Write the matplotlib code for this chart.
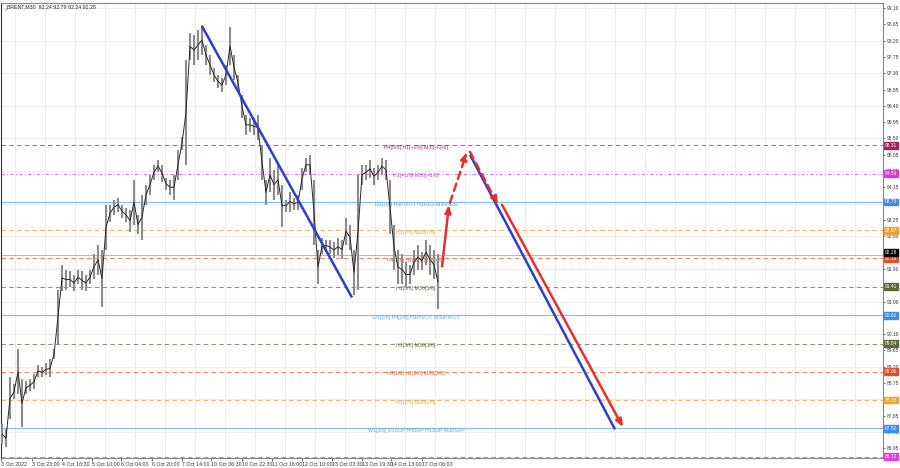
import matplotlib
matplotlib.use("Agg")
import matplotlib.pyplot as plt
import matplotlib.transforms as mtransforms
import numpy as np

plt.rcParams["font.family"] = ["Liberation Sans", "DejaVu Sans"]

# ---------------- data ----------------
symbol_title = "_BRENT,M30  92.24 92.79 92.24 92.28"

bar_high = [87.61, 87.47, 88.91, 88.71, 89.68, 88.85, 88.80, 88.85, 88.99, 89.26,
            89.18, 89.29, 89.40, 89.68, 91.33, 92.02, 91.88, 91.83, 91.74, 91.88,
            91.83, 91.74, 91.88, 92.30, 92.57, 92.43, 93.67, 93.67, 93.81, 93.87,
            93.67, 93.59, 93.53, 94.36, 93.40, 93.95, 94.22, 94.50, 94.77, 94.91,
            94.77, 94.42, 94.36, 94.50, 95.19, 95.55, 97.67, 98.41, 98.36, 98.49,
            98.63, 98.08, 97.81, 97.45, 97.25, 97.17, 97.53, 98.58, 97.81, 97.25,
            96.70, 96.15, 96.07, 96.07, 96.15, 95.33, 94.36, 94.97, 94.64, 94.77,
            94.22, 93.81, 94.03, 93.87, 93.95, 94.69, 94.97, 95.05, 94.36, 92.43,
            92.76, 92.71, 92.71, 92.63, 92.76, 92.71, 93.31, 93.12, 92.43, 94.50,
            94.77, 94.77, 94.91, 94.69, 94.77, 94.97, 94.91, 94.36, 93.12, 92.43,
            92.30, 92.10, 92.02, 92.43, 92.57, 92.38, 92.71, 92.57, 92.43, 92.30]
bar_low = [87.06, 86.98, 87.75, 88.30, 88.44, 87.53, 88.44, 88.52, 88.58, 88.91,
           88.91, 88.96, 88.91, 89.40, 89.82, 91.28, 91.33, 91.39, 91.28, 91.47,
           91.33, 91.28, 91.47, 91.61, 91.74, 90.84, 92.43, 93.20, 93.40, 93.48,
           93.31, 93.20, 92.93, 93.12, 92.85, 92.71, 93.67, 93.95, 94.36, 94.58,
           94.31, 94.09, 93.95, 93.81, 94.36, 95.19, 94.77, 97.67, 97.53, 97.67,
           97.81, 97.53, 97.25, 97.06, 96.90, 96.79, 96.98, 97.53, 97.12, 96.84,
           96.07, 95.60, 95.68, 95.60, 95.46, 94.36, 93.67, 94.03, 93.81, 93.95,
           93.07, 93.48, 93.48, 93.53, 93.53, 94.09, 94.58, 94.50, 92.57, 91.47,
           92.30, 92.38, 92.30, 92.21, 92.27, 92.16, 92.57, 92.43, 91.19, 91.33,
           94.22, 94.36, 94.42, 94.22, 94.36, 94.50, 94.36, 92.85, 91.88, 91.47,
           91.47, 91.39, 91.47, 91.74, 91.88, 91.88, 92.02, 91.74, 91.61, 90.78]
last_price = 92.28

time_labels = ["3 Oct 2022", "3 Oct 23:00", "4 Oct 16:30", "5 Oct 10:00", "6 Oct 04:00",
               "6 Oct 20:00", "7 Oct 14:00", "10 Oct 06:30", "10 Oct 22:30", "11 Oct 16:00",
               "12 Oct 10:00", "13 Oct 03:30", "13 Oct 19:30", "14 Oct 13:00", "17 Oct 06:00"]
time_label_bars = [-0.25, 7.5, 15.0, 22.5, 29.75, 37.5, 45.0, 52.25, 60.0, 67.5,
                   75.0, 82.5, 90.0, 97.25, 105.0]

level_prices = [95.31, 94.53, 93.75, 92.97, 92.19, 91.41, 90.62, 89.84, 89.06, 88.28, 87.50, 86.72]
level_texts = ["H4[5/8] H1[+2/8] M30[+2/8]", "H1[+1/8] M30[+1/8]",
               "D1[2/8] H4PIVOT H1RES M30RES", "H1[7/8] M30[7/8]",
               "H4[3/8] H1[6/8] M30[6/8]", "H1[5/8] M30[5/8]",
               "D1[1/8] H4[2/8] H1PIVOT M30PIVOT", "H1[3/8] M30[3/8]",
               "H4[1/8] H1[2/8] M30[2/8]", "H1[1/8] M30[1/8]",
               "W1[3/8] D1SUP H4SUP H1SUP M30SUP", ""]
level_colors = ["#b8287a", "#e040e0", "#5aa8e0", "#f0a030", "#e8602a", "#6b7040",
                "#5aa8e0", "#6b7040", "#e8602a", "#f0a030", "#5aa8e0", "#e040e0"]
level_box_colors = ["#a8205e", "#d83cd8", "#3a8ee8", "#f0a030", "#e0502a", "#5a6a3a",
                    "#3a8ee8", "#5a6a3a", "#e0502a", "#f0a030", "#3a8ee8", "#e040e0"]
level_styles = ["dashed", "dashdot", "solid", "dashed", "dashed", "dashed",
                "solid", "dashed", "dashed", "dashed", "solid", "dashed"]

# projection segments: (bar, price) -> (bar, price)
trend_down_1 = [(50.0, 98.60), (87.5, 91.11)]
trend_down_2 = [(117.0, 95.05), (153.25, 87.47)]
arrow_up_solid = [(110.0, 91.97), (111.75, 93.67)]
arrow_up_dashed = [(112.0, 93.73), (116.25, 95.13)]
arrow_down_dashed = [(117.0, 95.13), (124.0, 93.67)]
arrow_down_solid = [(125.0, 93.67), (155.25, 87.53)]

# ---------------- figure ----------------
W, H = 900, 468
fig = plt.figure(figsize=(W / 100, H / 100), dpi=100)
fig.patch.set_facecolor("white")
ax = fig.add_axes([1 / W, (H - 458) / H, 882 / W, 455 / H])
ax.set_facecolor("white")
ax.set_xlim(-0.25, 220.25)
ax.set_ylim(86.68, 99.24)

FS = 3.8
FSR = 3.5

# grid
for gx in np.arange(3.25, 220, 7.5):
    ax.axvline(gx, color="#ececec", lw=0.7, zorder=0)
for gy in np.arange(86.50, 99.2, 0.90):
    ax.axhline(gy, color="#ececec", lw=0.7, zorder=0)

# levels
for p, t, c, s in zip(level_prices, level_texts, level_colors, level_styles):
    if s == "dashed":
        ls = (0, (4, 3))
    elif s == "dashdot":
        ls = (0, (3, 2, 1, 2))
    else:
        ls = "-"
    ax.axhline(p, color=c, lw=0.8, ls=ls, alpha=0.75, zorder=1)
    if t:
        ax.text(103.5, p - 0.06, t, ha="center", va="center", fontsize=FS, color=c, zorder=2)

# bars
idx = np.arange(len(bar_high))
hi = np.array(bar_high)
lo = np.array(bar_low)
ax.vlines(idx, lo, hi, color="#8c8c8c", lw=1.5, zorder=3)
ax.plot(idx, (hi + lo) / 2, color="#2a2a2a", lw=0.7, zorder=4)

# projections
blue = "#2b3fd0"
red = "#e8302a"
for seg in (trend_down_1, trend_down_2):
    (x0, y0), (x1, y1) = seg
    ax.plot([x0, x1], [y0, y1], color=blue, lw=1.8, solid_capstyle="butt", zorder=5)
for seg, ls in ((arrow_up_solid, "-"), (arrow_up_dashed, (0, (3, 2))),
                (arrow_down_dashed, (0, (3, 2))), (arrow_down_solid, "-")):
    (x0, y0), (x1, y1) = seg
    ax.annotate("", xy=(x1, y1), xytext=(x0, y0),
                arrowprops=dict(arrowstyle="-|>,head_length=0.45,head_width=0.18",
                                color=red, lw=1.8, linestyle=ls, shrinkA=0, shrinkB=0),
                zorder=6)

# axes
for side in ("top", "right", "bottom", "left"):
    ax.spines[side].set_color("#888888")
    ax.spines[side].set_linewidth(0.8)
ax.spines["left"].set_color("#333333")
ax.yaxis.tick_right()
yt = np.round(np.arange(86.95, 99.15, 0.45), 2)
ax.set_yticks(yt)
ax.set_yticklabels([f"{v:.2f}" for v in yt])
ax.tick_params(axis="y", labelsize=FSR, colors="#333333", length=1.5, width=0.5, pad=1.5)
ax.set_xticks(time_label_bars)
ax.set_xticklabels(time_labels, ha="left")
ax.tick_params(axis="x", labelsize=FS, colors="#333333", length=2, width=0.5, pad=1.2)

# price boxes on the right
trans = mtransforms.blended_transform_factory(ax.transAxes, ax.transData)
for p, bc in zip(level_prices, level_box_colors):
    ax.text(1.002, p, f"{p:.2f}", transform=trans, ha="left", va="center", fontsize=FSR,
            color="white", clip_on=False, zorder=10,
            bbox=dict(boxstyle="square,pad=0.18", fc=bc, ec=bc))
ax.text(1.002, last_price + 0.08, f"{last_price:.2f}", transform=trans, ha="left", va="center",
        fontsize=FSR, color="white", clip_on=False, zorder=11,
        bbox=dict(boxstyle="square,pad=0.18", fc="#000000", ec="#000000"))
ax.axhline(last_price, color="#9a9a9a", lw=0.5, zorder=1)

ax.text(0.003, 0.997, symbol_title, transform=ax.transAxes, ha="left", va="top",
        fontsize=FS, color="#222222")

fig.savefig("out.png", dpi=100)
